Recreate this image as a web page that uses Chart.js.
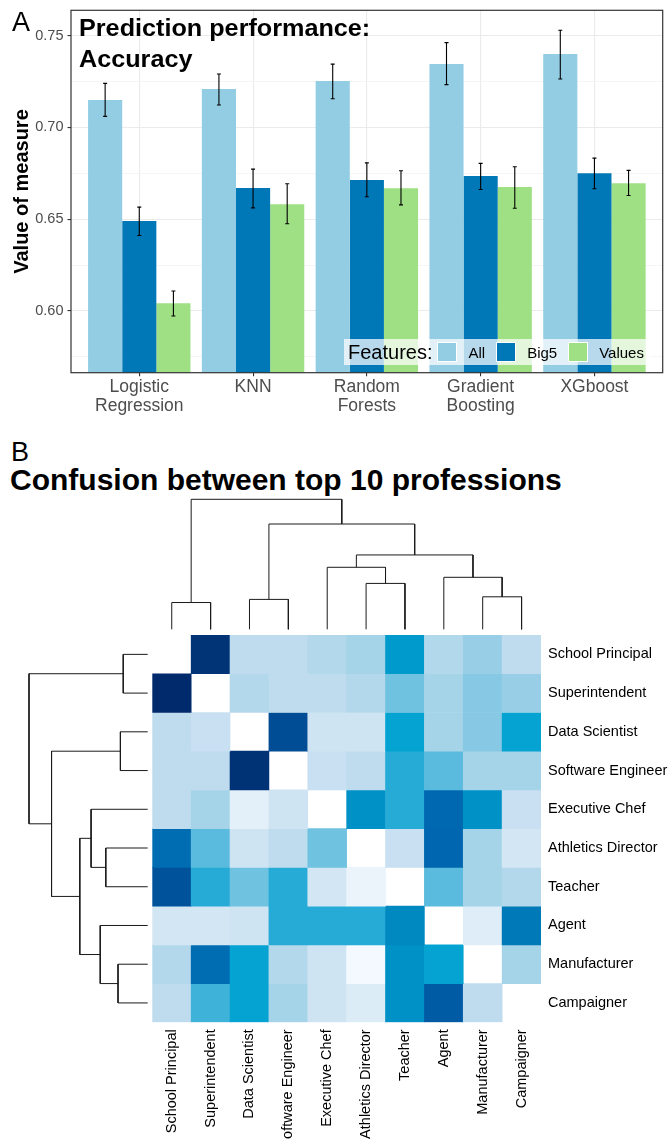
<!DOCTYPE html>
<html>
<head>
<meta charset="utf-8">
<script src="https://cdn.jsdelivr.net/npm/chart.js@4.4.1/dist/chart.umd.min.js"></script>
<style>
  html, body { margin: 0; padding: 0; background: #fff; }
  body { width: 672px; height: 1139px; position: relative; overflow: hidden;
         font-family: 'Liberation Sans', Arial, Helvetica, sans-serif; }
  .abs { position: absolute; }
  canvas { display: block; }
  .tag { font-size: 27px; line-height: 27px; color: #000; }
  #titleA { left: 78.5px; top: 11.5px; font-size: 24px; line-height: 31.2px; font-weight: bold; color: #000;
            white-space: nowrap; transform: scaleX(1.05); transform-origin: 0 0; }
  #titleB { left: 10px; top: 464.6px; font-size: 30px; line-height: 30px; font-weight: bold; color: #000; white-space: nowrap; }
  #legendA { left: 344px; top: 339px; height: 26px; background: rgba(255,255,255,0.72);
             display: flex; align-items: center; padding: 0 8px 0 4px; white-space: nowrap; }
  #legendA .ltitle { font-size: 20px; color: #000; margin-right: 5px; }
  #legendA .key { width: 20px; height: 20px; box-sizing: border-box; border: 1px solid #fff; }
  #legendA .lab { font-size: 15px; color: #000; margin: 0 11px 0 11px; }
  #legendA .lab:last-child { margin-right: 0; }
</style>
</head>
<body>

<canvas id="chartA" class="abs" style="left:0;top:0" width="672" height="420"></canvas>
<div class="abs tag" style="left:12px;top:9.4px">A</div>
<div class="abs" id="titleA">Prediction performance:<br>Accuracy</div>
<div class="abs" id="legendA"></div>

<div class="abs tag" style="left:11px;top:438.8px">B</div>
<div class="abs" id="titleB">Confusion between top 10 professions</div>
<canvas id="dendroTop" class="abs" style="left:147px;top:490px" width="400" height="145"></canvas>
<canvas id="dendroLeft" class="abs" style="left:0;top:630px" width="160" height="400"></canvas>
<canvas id="heat" class="abs" style="left:147px;top:630px" width="525" height="509"></canvas>

<script>
// ---------- Panel A: accuracy per model and feature set ----------
const models = [['Logistic', 'Regression'], 'KNN', ['Random', 'Forests'], ['Gradient', 'Boosting'], 'XGboost'];
const featureSets = ['All', 'Big5', 'Values'];
const featureColours = ['#93CDE3', '#0077B6', '#9FE085'];

const accuracyAll    = [0.715, 0.721, 0.7253, 0.7345, 0.740];
const accuracyBig5   = [0.649, 0.667, 0.6713, 0.6735, 0.6751];
const accuracyValues = [0.6042, 0.6582, 0.6669, 0.6675, 0.6696];

const lowerAll    = [0.706, 0.7122, 0.7156, 0.7233, 0.7264];
const upperAll    = [0.724, 0.7291, 0.7345, 0.7462, 0.7529];
const lowerBig5   = [0.6411, 0.6562, 0.6622, 0.6662, 0.6666];
const upperBig5   = [0.6566, 0.6773, 0.6807, 0.6804, 0.6833];
const lowerValues = [0.5973, 0.6475, 0.6578, 0.6560, 0.6629];
const upperValues = [0.6109, 0.6693, 0.6764, 0.6786, 0.6766];

const yMajorTicks = [0.60, 0.65, 0.70, 0.75];
const yMajorLabels = ['0.60', '0.65', '0.70', '0.75'];
const yMinorTicks = [0.575, 0.625, 0.675, 0.725];

// ---------- Panel B: confusion between professions ----------
const professions = ['School Principal', 'Superintendent', 'Data Scientist', 'Software Engineer',
  'Executive Chef', 'Athletics Director', 'Teacher', 'Agent', 'Manufacturer', 'Campaigner'];

// relative confusion (0 = rarely confused, 1 = most confused); diagonal left empty
const confusion = [
  [null, 0.985, 0.25, 0.25, 0.315, 0.40, 0.77, 0.32, 0.43, 0.25],
  [1.00, null, 0.315, 0.25, 0.25, 0.315, 0.525, 0.40, 0.47, 0.43],
  [0.25, 0.19, null, 0.947, 0.165, 0.165, 0.735, 0.40, 0.47, 0.735],
  [0.25, 0.25, 0.986, null, 0.19, 0.25, 0.70, 0.575, 0.40, 0.40],
  [0.25, 0.40, 0.08, 0.165, null, 0.80, 0.70, 0.895, 0.80, 0.19],
  [0.884, 0.575, 0.165, 0.25, 0.525, null, 0.19, 0.90, 0.40, 0.147],
  [0.936, 0.70, 0.525, 0.70, 0.147, 0.05, null, 0.575, 0.40, 0.315],
  [0.147, 0.147, 0.165, 0.70, 0.70, 0.70, 0.82, null, 0.102, 0.856],
  [0.315, 0.884, 0.735, 0.315, 0.165, 0.016, 0.80, 0.735, null, 0.40],
  [0.25, 0.64, 0.735, 0.40, 0.165, 0.11, 0.80, 0.92, 0.25, null]
];

// colour scale for the confusion cells
const scaleBreaks  = [0, 0.2, 0.4, 0.7, 0.74, 0.8, 0.9, 0.95, 1];
const scaleColours = ['#F7FBFF', '#C6DFF0', '#A5D3E8', '#26AAD6', '#00A2D1', '#0091C6', '#0066AF', '#004A93', '#002A6B'];

// hierarchical clustering of the professions: nodes 0-9 are leaves, node 10+k is merge k
const mergeLeft   = [0, 2, 5, 4, 8, 7, 13, 11, 10];
const mergeRight  = [1, 3, 6, 12, 9, 14, 15, 16, 17];
const mergeHeight = [0.206, 0.23, 0.353, 0.477, 0.25, 0.40, 0.572, 0.81, 1.0];

const FONT = "'Liberation Sans', Arial, Helvetica, sans-serif";

function hexToRgb(h) {
  const n = parseInt(h.slice(1), 16);
  return [(n >> 16) & 255, (n >> 8) & 255, n & 255];
}
function colourFor(v) {
  if (v === null) return 'rgba(255,255,255,0)';
  let k = 0;
  while (k < scaleBreaks.length - 2 && v > scaleBreaks[k + 1]) k++;
  const t = Math.max(0, Math.min(1, (v - scaleBreaks[k]) / (scaleBreaks[k + 1] - scaleBreaks[k])));
  const a = hexToRgb(scaleColours[k]), b = hexToRgb(scaleColours[k + 1]);
  const c = a.map((x, i) => Math.round(x + (b[i] - x) * t));
  return `rgb(${c[0]},${c[1]},${c[2]})`;
}

// U-shaped links of the dendrogram as one polyline with gaps
function dendrogramLinks() {
  const pos = professions.map((_, i) => i);
  const hgt = professions.map(() => 0);
  const pts = [];
  mergeLeft.forEach((a, k) => {
    const b = mergeRight[k], h = mergeHeight[k];
    pts.push({ p: pos[a], h: hgt[a] }, { p: pos[a], h }, { p: pos[b], h }, { p: pos[b], h: hgt[b] }, null);
    pos.push((pos[a] + pos[b]) / 2);
    hgt.push(h);
  });
  return pts;
}

// fixes an axis to a given thickness and drops the label overhang padding
function fixAxis(thickness) {
  return s => {
    if (s.isHorizontal()) s.height = thickness; else s.width = thickness;
    s.paddingTop = 0; s.paddingBottom = 0; s.paddingLeft = 0; s.paddingRight = 0;
  };
}

// ---------- Chart A ----------
const isMajor = v => yMajorTicks.some(m => Math.abs(m - v) < 1e-9);

const errorBars = {
  id: 'errorBars',
  afterDatasetsDraw(chart) {
    const { ctx } = chart;
    const y = chart.scales.y;
    ctx.save();
    ctx.strokeStyle = '#000';
    ctx.lineWidth = 1.1;
    chart.data.datasets.forEach((ds, i) => {
      chart.getDatasetMeta(i).data.forEach((bar, j) => {
        const top = y.getPixelForValue(ds.upper[j]);
        const bot = y.getPixelForValue(ds.lower[j]);
        ctx.beginPath();
        ctx.moveTo(bar.x, top); ctx.lineTo(bar.x, bot);
        ctx.moveTo(bar.x - 2, top); ctx.lineTo(bar.x + 2, top);
        ctx.moveTo(bar.x - 2, bot); ctx.lineTo(bar.x + 2, bot);
        ctx.stroke();
      });
    });
    ctx.restore();
  }
};

const panelFrame = {
  id: 'panelFrame',
  afterDraw(chart) {
    const { ctx, chartArea: a } = chart;
    ctx.save();
    ctx.strokeStyle = '#333333';
    ctx.lineWidth = 1.2;
    ctx.strokeRect(a.left, a.top, a.right - a.left, a.bottom - a.top);
    ctx.restore();
  }
};

const seriesValues = [accuracyAll, accuracyBig5, accuracyValues];
const seriesLower = [lowerAll, lowerBig5, lowerValues];
const seriesUpper = [upperAll, upperBig5, upperValues];

new Chart(document.getElementById('chartA'), {
  type: 'bar',
  data: {
    datasets: featureSets.map((name, s) => ({
      label: name,
      data: seriesValues[s].map((v, i) => ({ x: i + 1, y: v })),
      lower: seriesLower[s],
      upper: seriesUpper[s],
      backgroundColor: featureColours[s],
      borderWidth: 0,
      categoryPercentage: 0.9,
      barPercentage: 1
    }))
  },
  options: {
    responsive: false,
    animation: false,
    layout: { padding: { left: 0, top: 10.3, right: 9.3, bottom: 0 } },
    plugins: { legend: { display: false }, tooltip: { enabled: false } },
    scales: {
      x: {
        type: 'linear', min: 0.4, max: 5.6, offset: false,
        grid: { offset: false, color: '#EBEBEB', lineWidth: 1.1, tickColor: '#333333', tickLength: 3.5 },
        border: { display: false },
        afterBuildTicks: s => { s.ticks = models.map((_, i) => ({ value: i + 1 })); },
        ticks: {
          autoSkip: false, maxRotation: 0, padding: 1, color: '#4D4D4D',
          font: { family: FONT, size: 17.5, lineHeight: 1.1 },
          callback: (v, i) => models[i]
        },
        afterFit: fixAxis(47.3)
      },
      y: {
        type: 'linear', min: 0.5664, max: 0.7638, beginAtZero: false,
        grid: {
          color: c => isMajor(c.tick.value) ? '#EBEBEB' : '#F3F3F3',
          lineWidth: c => isMajor(c.tick.value) ? 1.1 : 0.8,
          tickColor: c => isMajor(c.tick.value) ? '#333333' : 'rgba(0,0,0,0)',
          tickLength: 3.5
        },
        border: { display: false },
        afterBuildTicks: s => {
          s.ticks = yMinorTicks.concat(yMajorTicks).sort((a, b) => a - b).map(v => ({ value: v }));
        },
        ticks: {
          autoSkip: false, padding: 4, color: '#4D4D4D',
          font: { family: FONT, size: 14.5 },
          callback: v => { const k = yMajorTicks.findIndex(m => Math.abs(m - v) < 1e-9); return k >= 0 ? yMajorLabels[k] : ''; }
        },
        title: {
          display: true, text: 'Value of measure', color: '#000',
          font: { family: FONT, size: 20, weight: 'bold' }, padding: { top: 10.5, bottom: 0 }
        },
        afterFit: fixAxis(71)
      }
    }
  },
  plugins: [errorBars, panelFrame]
});

// legend for panel A
(function buildLegend() {
  const box = document.getElementById('legendA');
  const t = document.createElement('span');
  t.className = 'ltitle';
  t.textContent = 'Features:';
  box.appendChild(t);
  featureSets.forEach((name, s) => {
    const k = document.createElement('span');
    k.className = 'key';
    k.style.background = featureColours[s];
    box.appendChild(k);
    const l = document.createElement('span');
    l.className = 'lab';
    l.textContent = name;
    box.appendChild(l);
  });
})();

// ---------- Chart B: dendrograms ----------
const links = dendrogramLinks();
const lineStyle = { showLine: true, borderColor: '#1A1A1A', borderWidth: 1, pointRadius: 0, spanGaps: false, clip: 8 };
const hiddenOpts = {
  responsive: false, animation: false,
  plugins: { legend: { display: false }, tooltip: { enabled: false } }
};

new Chart(document.getElementById('dendroTop'), {
  type: 'scatter',
  data: { datasets: [Object.assign({ data: links.map(q => q ? { x: q.p, y: q.h } : { x: 0, y: null }) }, lineStyle)] },
  options: Object.assign({}, hiddenOpts, {
    layout: { padding: { left: 5.3, right: 6, top: 9.3, bottom: 5.7 } },
    scales: {
      x: { type: 'linear', min: -0.5, max: 9.5, display: false },
      y: { type: 'linear', min: 0, max: 1, display: false }
    }
  })
});

new Chart(document.getElementById('dendroLeft'), {
  type: 'scatter',
  data: { datasets: [Object.assign({ data: links.map(q => q ? { x: q.h, y: q.p } : { x: null, y: null }) }, lineStyle)] },
  options: Object.assign({}, hiddenOpts, {
    layout: { padding: { left: 29, right: 12.3, top: 5, bottom: 7.7 } },
    scales: {
      x: { type: 'linear', min: 0, max: 1, reverse: true, display: false },
      y: { type: 'linear', min: -0.5, max: 9.5, reverse: true, display: false }
    }
  })
});

// ---------- Chart B: heatmap ----------
new Chart(document.getElementById('heat'), {
  type: 'bar',
  data: {
    labels: professions,
    datasets: professions.map((rowName, r) => ({
      label: rowName,
      data: confusion[r].map(v => v === null ? null : [r, r + 1]),
      backgroundColor: confusion[r].map(v => colourFor(v)),
      borderWidth: 0,
      grouped: false,
      categoryPercentage: 1,
      barPercentage: 1
    }))
  },
  options: {
    responsive: false, animation: false,
    layout: { padding: { left: 5.3, top: 5, right: 0, bottom: 0 } },
    plugins: { legend: { display: false }, tooltip: { enabled: false } },
    scales: {
      x: {
        type: 'category', position: 'bottom',
        grid: { display: false, drawTicks: false }, border: { display: false },
        ticks: { autoSkip: false, minRotation: 90, maxRotation: 90, padding: 7, color: '#000',
                 font: { family: FONT, size: 14.5 } },
        afterFit: fixAxis(116.7)
      },
      y: {
        type: 'linear', position: 'right', min: 0, max: 10, reverse: true,
        grid: { display: false, drawTicks: false }, border: { display: false },
        afterBuildTicks: s => { s.ticks = professions.map((_, i) => ({ value: i + 0.5 })); },
        ticks: { autoSkip: false, padding: 7, color: '#000', font: { family: FONT, size: 14.5 },
                 callback: (v, i) => professions[i] },
        afterFit: fixAxis(131)
      }
    }
  }
});
</script>
</body>
</html>
